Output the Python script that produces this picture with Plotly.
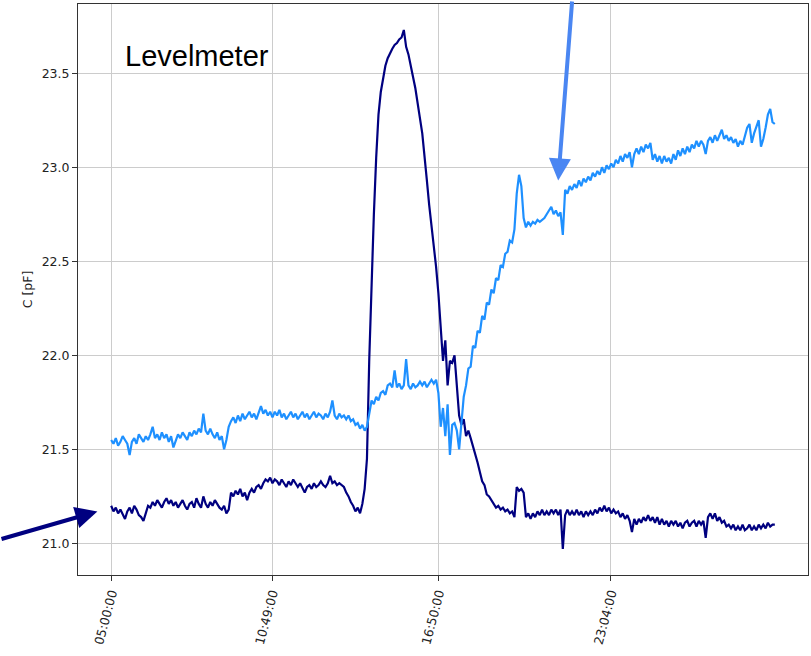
import numpy as np
import pandas as pd
import plotly.graph_objects as go

# Sample times: one reading every 5 minutes over 24 h starting at 05:00
start = pd.Timestamp("2021-03-01 05:00:00")
step_min = 5
n_samples = 289
times = start + pd.to_timedelta(np.arange(n_samples) * step_min, unit="min")

# Levelmeter capacitance, channel 1 (navy) [pF]
cap_ch1 = [
    21.20, 21.17, 21.19, 21.16, 21.18, 21.15, 21.13, 21.17, 21.19, 21.16,
    21.20, 21.18, 21.15, 21.14, 21.12, 21.16, 21.20, 21.19, 21.22, 21.20,
    21.23, 21.21, 21.19, 21.22, 21.24, 21.21, 21.23, 21.20, 21.22, 21.19,
    21.21, 21.23, 21.20, 21.18, 21.21, 21.22, 21.19, 21.24, 21.21, 21.19,
    21.25, 21.21, 21.19, 21.22, 21.20, 21.23, 21.21, 21.19, 21.18, 21.20,
    21.16, 21.18, 21.27, 21.25, 21.28, 21.26, 21.29, 21.25, 21.27, 21.23,
    21.27, 21.29, 21.27, 21.30, 21.31, 21.29, 21.32, 21.34, 21.33, 21.35,
    21.32, 21.34, 21.33, 21.31, 21.34, 21.32, 21.30, 21.33, 21.31, 21.34,
    21.32, 21.30, 21.32, 21.29, 21.27, 21.30, 21.31, 21.29, 21.32, 21.30,
    21.31, 21.33, 21.31, 21.30, 21.32, 21.36, 21.32, 21.33, 21.31, 21.32,
    21.31, 21.30, 21.27, 21.25, 21.22, 21.20, 21.17, 21.19, 21.16, 21.21,
    21.29, 21.45, 21.98, 22.40, 22.75, 23.05, 23.28, 23.40, 23.48, 23.54,
    23.58, 23.61, 23.63, 23.65, 23.66, 23.68, 23.69, 23.73, 23.64, 23.60,
    23.53, 23.48, 23.42, 23.33, 23.26, 23.18, 23.07, 22.93, 22.80, 22.70,
    22.57, 22.47, 22.33, 22.12, 21.97, 22.08, 21.84, 21.97, 21.96, 22.00,
    21.82, 21.68, 21.63, 21.66, 21.57, 21.60, 21.56, 21.52, 21.47, 21.43,
    21.38, 21.33, 21.31, 21.26, 21.25, 21.23, 21.21, 21.19, 21.20, 21.18,
    21.19, 21.17, 21.18, 21.16, 21.17, 21.14, 21.30, 21.28, 21.29, 21.27,
    21.14, 21.16, 21.13, 21.16, 21.14, 21.17, 21.15, 21.18, 21.15, 21.17,
    21.15, 21.18, 21.16, 21.18, 21.15, 21.18, 20.97, 21.15, 21.18, 21.15,
    21.17, 21.15, 21.18, 21.15, 21.17, 21.14, 21.17, 21.15, 21.17, 21.15,
    21.18, 21.16, 21.19, 21.17, 21.20, 21.17, 21.19, 21.16, 21.18, 21.16,
    21.17, 21.14, 21.16, 21.13, 21.15, 21.12, 21.06, 21.13, 21.10, 21.13,
    21.11, 21.14, 21.12, 21.15, 21.12, 21.14, 21.11, 21.14, 21.10, 21.13,
    21.10, 21.12, 21.09, 21.12, 21.10, 21.12, 21.09, 21.11, 21.08, 21.11,
    21.12, 21.09, 21.11, 21.12, 21.09, 21.12, 21.10, 21.12, 21.03, 21.14,
    21.16, 21.13, 21.16, 21.12, 21.14, 21.11, 21.12, 21.09, 21.10, 21.08,
    21.10, 21.07, 21.09, 21.07, 21.10, 21.07, 21.08, 21.10, 21.07, 21.09,
    21.07, 21.10, 21.08, 21.10, 21.08, 21.11, 21.09, 21.10, 21.10,
]

# Levelmeter capacitance, channel 2 (light blue) [pF]
cap_ch2 = [
    21.55, 21.53, 21.56, 21.52, 21.54, 21.57, 21.55, 21.53, 21.47, 21.54,
    21.56, 21.53, 21.58, 21.56, 21.54, 21.57, 21.55, 21.58, 21.62, 21.56,
    21.58, 21.55, 21.59, 21.56, 21.58, 21.54, 21.57, 21.51, 21.55, 21.58,
    21.56, 21.59, 21.57, 21.55, 21.59, 21.57, 21.60, 21.58, 21.61, 21.59,
    21.69, 21.60, 21.58, 21.61, 21.58, 21.56, 21.59, 21.55, 21.57, 21.50,
    21.55, 21.62, 21.65, 21.67, 21.64, 21.68, 21.65, 21.69, 21.66, 21.68,
    21.70, 21.67, 21.69, 21.66, 21.70, 21.73, 21.69, 21.71, 21.68, 21.70,
    21.67, 21.70, 21.68, 21.71, 21.67, 21.69, 21.66, 21.68, 21.70, 21.67,
    21.69, 21.66, 21.68, 21.70, 21.67, 21.69, 21.66, 21.68, 21.70, 21.67,
    21.69, 21.68, 21.66, 21.69, 21.67, 21.70, 21.76, 21.68, 21.66, 21.69,
    21.67, 21.68, 21.66, 21.68, 21.65, 21.66, 21.63, 21.64, 21.61, 21.63,
    21.60, 21.62, 21.68, 21.76, 21.74, 21.78, 21.76, 21.80, 21.81, 21.79,
    21.84, 21.85, 21.83, 21.92, 21.83, 21.85, 21.82, 21.84, 21.98, 21.84,
    21.82, 21.85, 21.83, 21.84, 21.86, 21.84, 21.86, 21.83, 21.85, 21.87,
    21.85, 21.87, 21.80, 21.62, 21.72, 21.57, 21.74, 21.47, 21.63, 21.64,
    21.60, 21.50, 21.64, 21.78, 21.84, 21.93, 21.94, 22.05, 22.04, 22.13,
    22.12, 22.21, 22.19, 22.28, 22.27, 22.35, 22.33, 22.41, 22.40, 22.48,
    22.47, 22.54, 22.55, 22.61, 22.60, 22.67, 22.86, 22.96, 22.90, 22.73,
    22.68, 22.71, 22.69, 22.71, 22.70, 22.72, 22.71, 22.72, 22.73, 22.75,
    22.77, 22.79, 22.75, 22.77, 22.74, 22.76, 22.64, 22.88, 22.86, 22.90,
    22.88, 22.91, 22.89, 22.93, 22.90, 22.94, 22.92, 22.95, 22.93, 22.97,
    22.95, 22.98, 22.96, 23.00, 22.97, 23.01, 22.99, 23.02, 23.00, 23.04,
    23.02, 23.06, 23.03, 23.07, 23.05, 23.08, 23.00, 23.07, 23.10, 23.07,
    23.11, 23.08, 23.12, 23.10, 23.13, 23.04, 23.07, 23.03, 23.06, 23.02,
    23.06, 23.03, 23.05, 23.02, 23.07, 23.04, 23.09, 23.06, 23.10, 23.07,
    23.11, 23.08, 23.12, 23.10, 23.14, 23.11, 23.14, 23.12, 23.07, 23.14,
    23.16, 23.13, 23.17, 23.14, 23.17, 23.20, 23.15, 23.17, 23.14, 23.16,
    23.13, 23.15, 23.11, 23.14, 23.12, 23.17, 23.21, 23.23, 23.13, 23.18,
    23.22, 23.25, 23.11, 23.15, 23.21, 23.28, 23.31, 23.24, 23.23,
]

# Time-axis tick labels
tick_labels = ["05:00:00", "10:49:00", "16:50:00", "23:04:00"]
tick_times = [start + pd.Timedelta(hours=int(s[:2]) - 5, minutes=int(s[3:5])) for s in tick_labels]

# y ticks
y_ticks = [21.0, 21.5, 22.0, 22.5, 23.0, 23.5]

fig = go.Figure()
fig.add_trace(go.Scatter(x=times, y=cap_ch1, mode="lines",
                         line=dict(color="#000080", width=2.2), name="ch1"))
fig.add_trace(go.Scatter(x=times, y=cap_ch2, mode="lines",
                         line=dict(color="#1e90ff", width=2.2), name="ch2"))

# 5 % padding on both axes
span = times[-1] - times[0]
x_range = [times[0] - span * 0.05, times[-1] + span * 0.05]
all_vals = cap_ch1 + cap_ch2
lo, hi = min(all_vals), max(all_vals)
pad = (hi - lo) * 0.05
y_range = [lo - pad, hi + pad]

axis_font = dict(family="DejaVu Sans", size=12.5, color="#222222")
fig.update_xaxes(
    range=x_range, tickvals=tick_times, ticktext=tick_labels, tickangle=-75,
    showgrid=True, gridcolor="#cccccc", gridwidth=1,
    showline=True, linecolor="#333333", linewidth=1, mirror=True,
    ticks="outside", ticklen=5, tickcolor="#333333",
    tickfont=axis_font, zeroline=False,
)
fig.update_yaxes(
    range=y_range, tickvals=y_ticks, tickformat=".1f",
    showgrid=True, gridcolor="#cccccc", gridwidth=1,
    showline=True, linecolor="#333333", linewidth=1, mirror=True,
    ticks="outside", ticklen=5, tickcolor="#333333",
    tickfont=axis_font, zeroline=False,
    title=dict(text="C [pF]", font=axis_font, standoff=6),
)

# Label and pointer arrows
fig.add_annotation(
    xref="paper", yref="paper", x=0.0616, y=0.909,
    xanchor="left", yanchor="middle", showarrow=False,
    text="Levelmeter", font=dict(family="Liberation Sans", size=29, color="#000000"),
)
fig.add_annotation(
    x=start - pd.Timedelta(minutes=30), y=21.17, text="",
    showarrow=True, arrowhead=2, arrowsize=1.1, arrowwidth=4,
    arrowcolor="#000080", ax=-98, ay=28, standoff=0,
)
fig.add_annotation(
    x=start + pd.Timedelta(minutes=970), y=22.93, text="",
    showarrow=True, arrowhead=2, arrowsize=1.1, arrowwidth=4,
    arrowcolor="#4a86f2", ax=14, ay=-182, standoff=0,
)

fig.update_layout(
    width=811, height=656,
    margin=dict(l=78, r=3, t=4, b=81),
    paper_bgcolor="white", plot_bgcolor="white",
    showlegend=False,
)

fig.write_html("out.html")
